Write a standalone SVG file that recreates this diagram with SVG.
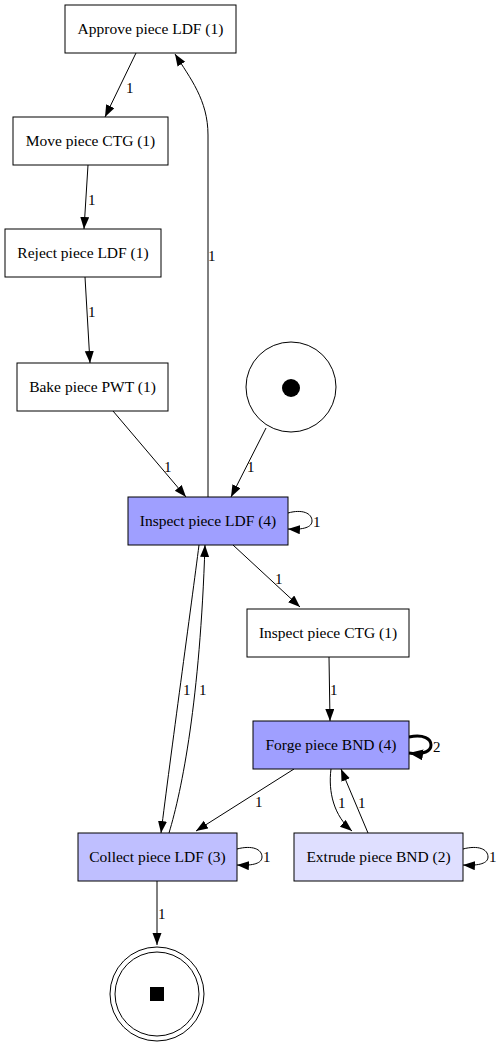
<svg xmlns="http://www.w3.org/2000/svg" width="501" height="1048" viewBox="0 0 501 1048">
<style>
.n{stroke:#000;stroke-width:1}
.t{font-family:"Liberation Serif","Times New Roman",serif;font-size:15.5px;text-anchor:middle;fill:#000}
.l{font-family:"Liberation Serif","Times New Roman",serif;font-size:15px;fill:#000}
.e{fill:none;stroke:#000;stroke-width:1}
.e2{fill:none;stroke:#000;stroke-width:3}
</style>
<defs>
<marker id="a" markerUnits="userSpaceOnUse" markerWidth="13" markerHeight="10" refX="12" refY="4.5" orient="auto">
<path d="M0,0 L12,4.5 L0,9 z" fill="#000"/>
</marker>
<marker id="b" markerUnits="userSpaceOnUse" markerWidth="15" markerHeight="12" refX="14" refY="5.5" orient="auto">
<path d="M0,0 L14,5.5 L0,11 z" fill="#000"/>
</marker>
</defs>
<rect width="501" height="1048" fill="#fff"/>
<g id="connectors">
<path class="e" d="M136,53 L105,117" marker-end="url(#a)"/>
<text class="l" x="126" y="93">1</text>
<path class="e" d="M88,165 L84,229" marker-end="url(#a)"/>
<text class="l" x="88" y="205">1</text>
<path class="e" d="M85,277 L90,363" marker-end="url(#a)"/>
<text class="l" x="88" y="317">1</text>
<path class="e" d="M113,411 L186,497" marker-end="url(#a)"/>
<text class="l" x="164" y="472">1</text>
<path class="e" d="M266,428 L231,497" marker-end="url(#a)"/>
<text class="l" x="247" y="472">1</text>
<path class="e" d="M208,497 L208,135 C208,100 190,78 175,54" marker-end="url(#a)"/>
<text class="l" x="208" y="261">1</text>
<path class="e" d="M288,513 C302,509 312,513 312,521 C312,527 304,530 288,529" marker-end="url(#a)"/>
<text class="l" x="313" y="527">1</text>
<path class="e" d="M233,545 L300,607" marker-end="url(#a)"/>
<text class="l" x="275" y="584">1</text>
<path class="e" d="M329,657 L330,721" marker-end="url(#a)"/>
<text class="l" x="330" y="695">1</text>
<path class="e2" d="M409,737 C424,734 431,739 431,745 C431,751 424,755 409,753" marker-end="url(#b)"/>
<text class="l" x="433" y="752">2</text>
<path class="e" d="M294,769 L196,831" marker-end="url(#a)"/>
<text class="l" x="255" y="807">1</text>
<path class="e" d="M331,769 C328,792 334,816 352,831" marker-end="url(#a)"/>
<text class="l" x="338" y="808">1</text>
<path class="e" d="M368,833 L341,769" marker-end="url(#a)"/>
<text class="l" x="358" y="808">1</text>
<path class="e" d="M199,545 C192,600 170,760 161,833" marker-end="url(#a)"/>
<text class="l" x="183" y="695">1</text>
<path class="e" d="M169,833 C182,790 200,700 205,545" marker-end="url(#a)"/>
<text class="l" x="199" y="695">1</text>
<path class="e" d="M237,849 C252,845 262,849 262,857 C262,863 254,866 237,865" marker-end="url(#a)"/>
<text class="l" x="263" y="862">1</text>
<path class="e" d="M463,849 C478,845 488,849 488,857 C488,863 480,866 463,865" marker-end="url(#a)"/>
<text class="l" x="489" y="862">1</text>
<path class="e" d="M157,881 L157,945" marker-end="url(#a)"/>
<text class="l" x="158" y="919">1</text>
</g>
<g id="approve_ldf"><rect class="n" x="65" y="5" width="171" height="48" fill="#fff"/><text class="t" x="150.5" y="34">Approve piece LDF (1)</text></g>
<g id="move_ctg"><rect class="n" x="13" y="117" width="155" height="48" fill="#fff"/><text class="t" x="90.5" y="146">Move piece CTG (1)</text></g>
<g id="reject_ldf"><rect class="n" x="5" y="229" width="156" height="48" fill="#fff"/><text class="t" x="83" y="258">Reject piece LDF (1)</text></g>
<g id="bake_pwt"><rect class="n" x="17" y="363" width="151" height="48" fill="#fff"/><text class="t" x="92.5" y="392">Bake piece PWT (1)</text></g>
<g id="start"><circle class="n" cx="291" cy="387" r="45" fill="#fff"/><circle cx="291" cy="388" r="9" fill="#000"/></g>
<g id="inspect_ldf"><rect class="n" x="128" y="497" width="160" height="48" fill="#9f9fff"/><text class="t" x="208" y="526">Inspect piece LDF (4)</text></g>
<g id="inspect_ctg"><rect class="n" x="247" y="609" width="162" height="48" fill="#fff"/><text class="t" x="328" y="638">Inspect piece CTG (1)</text></g>
<g id="forge_bnd"><rect class="n" x="253" y="721" width="156" height="48" fill="#9f9fff"/><text class="t" x="331" y="750">Forge piece BND (4)</text></g>
<g id="collect_ldf"><rect class="n" x="78" y="833" width="159" height="48" fill="#bfbfff"/><text class="t" x="157.5" y="862">Collect piece LDF (3)</text></g>
<g id="extrude_bnd"><rect class="n" x="294" y="833" width="169" height="48" fill="#dfdfff"/><text class="t" x="378.5" y="862">Extrude piece BND (2)</text></g>
<g id="end"><circle class="n" cx="157" cy="994" r="47" fill="#fff"/><circle class="n" cx="157" cy="994" r="42" fill="none"/><rect x="150" y="987" width="14" height="14" fill="#000"/></g>
</svg>
